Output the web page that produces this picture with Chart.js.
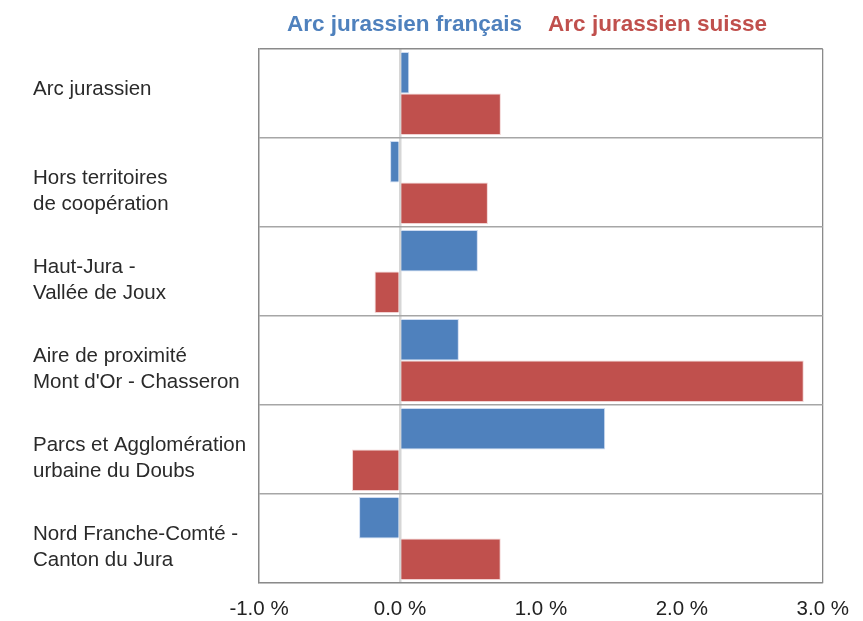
<!DOCTYPE html>
<html>
<head>
<meta charset="utf-8">
<script src="https://cdn.jsdelivr.net/npm/chart.js@4"></script>
<style>
html,body{margin:0;padding:0;background:#fff;}
#wrap{width:863px;height:621px;}
</style>
</head>
<body>
<div id="wrap"><canvas id="c" width="863" height="621"></canvas></div>
<script>
const categories = [
  ["Arc jurassien", ""],
  ["Hors territoires", "de coopération"],
  ["Haut-Jura -", "Vallée de Joux"],
  ["Aire de proximité", "Mont d'Or - Chasseron"],
  ["Parcs et Agglomération", "urbaine du Doubs"],
  ["Nord Franche-Comté -", "Canton du Jura"]
];
const seriesNames = ["Arc jurassien français", "Arc jurassien suisse"];
const francais = [0.066, -0.07, 0.553, 0.418, 1.456, -0.29];
const suisse = [0.716, 0.624, -0.18, 2.865, -0.34, 0.715];
const xTicks = [-1, 0, 1, 2, 3];

const BLUE = '#4f81bd';
const RED = '#c0504d';
const FONT = "'Liberation Sans', Arial, Helvetica, sans-serif";

const legendPlugin = {
  id: 'customLegend',
  afterDraw(chart) {
    const ctx = chart.ctx;
    const a = chart.chartArea;
    ctx.save();
    ctx.font = "bold 22.5px " + FONT;
    ctx.textBaseline = 'alphabetic';
    let x = a.left + 28;
    const y = 31;
    const colors = [BLUE, RED];
    chart.data.datasets.forEach((ds, i) => {
      ctx.fillStyle = colors[i];
      ctx.fillText(ds.label, x, y);
      x += ctx.measureText(ds.label).width + 26;
    });
    ctx.restore();
  }
};

new Chart(document.getElementById('c'), {
  type: 'bar',
  data: {
    labels: categories,
    datasets: [
      { label: seriesNames[0], data: francais, backgroundColor: BLUE, borderColor: 'rgba(200,215,240,0.9)', borderWidth: 1,
        categoryPercentage: 0.93, barPercentage: 1.0 },
      { label: seriesNames[1], data: suisse, backgroundColor: RED, borderColor: 'rgba(240,205,205,0.9)', borderWidth: 1,
        categoryPercentage: 0.93, barPercentage: 1.0 }
    ]
  },
  options: {
    indexAxis: 'y',
    responsive: false,
    animation: false,
    layout: { padding: { top: 49, left: 33, right: 40, bottom: 0 } },
    plugins: { legend: { display: false }, tooltip: { enabled: false } },
    scales: {
      x: {
        min: -1, max: 3,
        afterBuildTicks(scale) { scale.ticks = xTicks.map(v => ({ value: v })); },
        afterFit(scale) { scale.height = 38; },
        ticks: {
          font: { family: FONT, size: 20.5 },
          color: '#222',
          padding: 14,
          callback: v => v.toFixed(1) + ' %'
        },
        grid: {
          drawTicks: false,
          color: c => (c.tick && c.tick.value === 0) ? '#d6d6d6' : ((c.tick && (c.tick.value === -1 || c.tick.value === 3)) ? '#8a8a8a' : 'rgba(0,0,0,0)'),
          lineWidth: c => (c.tick && c.tick.value === 0) ? 2.5 : 1.3
        },
        border: { display: true, color: '#8a8a8a', width: 1.3 }
      },
      y: {
        afterFit(scale) { scale.width = 226; },
        ticks: {
          crossAlign: 'far',
          font: { family: FONT, size: 20.5, lineHeight: 1.3 },
          color: '#2a2a2a',
          labelOffset: 9,
          padding: 0
        },
        grid: {
          offset: true,
          drawTicks: false,
          color: c => (c.index === 0 || c.index === categories.length) ? '#8a8a8a' : '#a6a6a6',
          lineWidth: 1.6
        },
        border: { display: true, color: '#8a8a8a', width: 1.3 }
      }
    }
  },
  plugins: [legendPlugin]
});
</script>
</body>
</html>
